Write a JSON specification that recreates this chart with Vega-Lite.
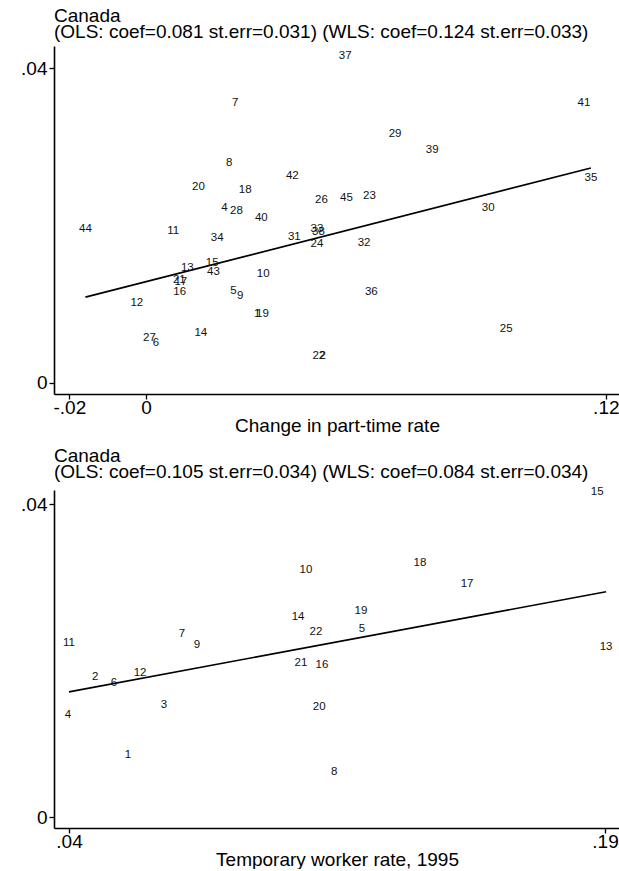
{
  "$schema": "https://vega.github.io/schema/vega-lite/v6.json",
  "padding": {"left": 20, "top": 7, "right": 0, "bottom": 0},
  "background": "white",
  "spacing": 12,
  "config": {
    "font": "Liberation Sans",
    "view": {"stroke": null},
    "axis": {
      "grid": false,
      "domainColor": "black",
      "domainWidth": 1.6,
      "tickColor": "black",
      "tickWidth": 1.3,
      "tickSize": 5,
      "labelFont": "Liberation Sans",
      "labelFontSize": 19,
      "labelColor": "black",
      "labelPadding": 2,
      "titleFont": "Liberation Sans",
      "titleFontSize": 19,
      "titleFontWeight": "normal",
      "titleColor": "black"
    },
    "axisX": {"labelPadding": -1, "titlePadding": -1},
    "title": {
      "font": "Liberation Sans",
      "fontSize": 19,
      "fontWeight": "normal",
      "color": "black",
      "anchor": "start",
      "frame": "group",
      "lineHeight": 16,
      "offset": 4
    },
    "text": {"font": "Liberation Sans", "fontSize": 11.5, "color": "#111"}
  },
  "datasets": {
    "parttime": [
      {"id": "37", "x": 0.0520, "y": 0.0415},
      {"id": "7", "x": 0.0233, "y": 0.0356},
      {"id": "41", "x": 0.1143, "y": 0.0356},
      {"id": "29", "x": 0.0650, "y": 0.0316},
      {"id": "39", "x": 0.0747, "y": 0.0296},
      {"id": "8", "x": 0.0217, "y": 0.0279},
      {"id": "42", "x": 0.0382, "y": 0.0263},
      {"id": "20", "x": 0.0137, "y": 0.0249},
      {"id": "18", "x": 0.0259, "y": 0.0245},
      {"id": "26", "x": 0.0458, "y": 0.0232},
      {"id": "45", "x": 0.0523, "y": 0.0235},
      {"id": "23", "x": 0.0583, "y": 0.0237},
      {"id": "35", "x": 0.1161, "y": 0.0260},
      {"id": "4", "x": 0.0205, "y": 0.0222},
      {"id": "28", "x": 0.0236, "y": 0.0218},
      {"id": "40", "x": 0.0301, "y": 0.0210},
      {"id": "30", "x": 0.0893, "y": 0.0222},
      {"id": "44", "x": -0.0158, "y": 0.0196},
      {"id": "11", "x": 0.0071, "y": 0.0193},
      {"id": "34", "x": 0.0186, "y": 0.0184},
      {"id": "33", "x": 0.0446, "y": 0.0196},
      {"id": "38", "x": 0.0450, "y": 0.0192},
      {"id": "31", "x": 0.0387, "y": 0.0185},
      {"id": "24", "x": 0.0446, "y": 0.0177},
      {"id": "32", "x": 0.0569, "y": 0.0178},
      {"id": "13", "x": 0.0108, "y": 0.0146},
      {"id": "15", "x": 0.0173, "y": 0.0152},
      {"id": "43", "x": 0.0176, "y": 0.0141},
      {"id": "21", "x": 0.0087, "y": 0.0131},
      {"id": "17", "x": 0.0091, "y": 0.0128},
      {"id": "10", "x": 0.0306, "y": 0.0138},
      {"id": "16", "x": 0.0088, "y": 0.0115},
      {"id": "5", "x": 0.0228, "y": 0.0117},
      {"id": "9", "x": 0.0246, "y": 0.0111},
      {"id": "12", "x": -0.0024, "y": 0.0102},
      {"id": "1", "x": 0.0290, "y": 0.0088},
      {"id": "19", "x": 0.0304, "y": 0.0088},
      {"id": "36", "x": 0.0588, "y": 0.0115},
      {"id": "14", "x": 0.0143, "y": 0.0064},
      {"id": "27", "x": 0.0009, "y": 0.0057},
      {"id": "6", "x": 0.0026, "y": 0.0051},
      {"id": "25", "x": 0.0940, "y": 0.0068},
      {"id": "22", "x": 0.0451, "y": 0.0034},
      {"id": "2", "x": 0.0461, "y": 0.0034}
    ],
    "parttimeFit": [
      {"x": -0.0158, "y": 0.0109},
      {"x": 0.1161, "y": 0.0273}
    ],
    "temporary": [
      {"id": "15", "x": 0.1878, "y": 0.0415},
      {"id": "10", "x": 0.1063, "y": 0.0316},
      {"id": "18", "x": 0.1382, "y": 0.0325},
      {"id": "17", "x": 0.1514, "y": 0.0298},
      {"id": "14", "x": 0.1041, "y": 0.0256},
      {"id": "19", "x": 0.1217, "y": 0.0263},
      {"id": "11", "x": 0.0400, "y": 0.0222},
      {"id": "7", "x": 0.0716, "y": 0.0234},
      {"id": "9", "x": 0.0758, "y": 0.0220},
      {"id": "22", "x": 0.1091, "y": 0.0236},
      {"id": "5", "x": 0.1220, "y": 0.0240},
      {"id": "13", "x": 0.1903, "y": 0.0217},
      {"id": "2", "x": 0.0473, "y": 0.0179},
      {"id": "6", "x": 0.0526, "y": 0.0171},
      {"id": "12", "x": 0.0599, "y": 0.0184},
      {"id": "21", "x": 0.1049, "y": 0.0197},
      {"id": "16", "x": 0.1108, "y": 0.0194},
      {"id": "3", "x": 0.0666, "y": 0.0143},
      {"id": "20", "x": 0.1100, "y": 0.0141},
      {"id": "4", "x": 0.0397, "y": 0.0130},
      {"id": "1", "x": 0.0565, "y": 0.0079},
      {"id": "8", "x": 0.1142, "y": 0.0058}
    ],
    "temporaryFit": [
      {"x": 0.0400, "y": 0.0160},
      {"x": 0.1903, "y": 0.0288}
    ]
  },
  "vconcat": [
    {
      "title": {"text": ["Canada", "(OLS: coef=0.081 st.err=0.031) (WLS: coef=0.124 st.err=0.033)"]},
      "width": 566,
      "height": 348,
      "layer": [
        {
          "data": {"name": "parttimeFit"},
          "mark": {"type": "line", "color": "black", "strokeWidth": 1.7},
          "encoding": {
            "x": {"field": "x", "type": "quantitative"},
            "y": {"field": "y", "type": "quantitative"}
          }
        },
        {
          "data": {"name": "parttime"},
          "mark": {"type": "text"},
          "encoding": {
            "x": {"field": "x", "type": "quantitative", "scale": {"domain": [-0.024, 0.1237], "nice": false, "zero": false},
              "axis": {"title": "Change in part-time rate", "values": [-0.02, 0, 0.12], "labelExpr": "replace(datum.value + '', '0.', '.')"}},
            "y": {"field": "y", "type": "quantitative", "scale": {"domain": [-0.0014, 0.0428], "nice": false, "zero": false},
              "axis": {"title": null, "values": [0, 0.04], "labelExpr": "replace(datum.value + '', '0.', '.')"}},
            "text": {"field": "id"}
          }
        }
      ]
    },
    {
      "title": {"text": ["Canada", "(OLS: coef=0.105 st.err=0.034) (WLS: coef=0.084 st.err=0.034)"]},
      "width": 566,
      "height": 338,
      "layer": [
        {
          "data": {"name": "temporaryFit"},
          "mark": {"type": "line", "color": "black", "strokeWidth": 1.7},
          "encoding": {
            "x": {"field": "x", "type": "quantitative"},
            "y": {"field": "y", "type": "quantitative"}
          }
        },
        {
          "data": {"name": "temporary"},
          "mark": {"type": "text"},
          "encoding": {
            "x": {"field": "x", "type": "quantitative", "scale": {"domain": [0.0358, 0.1942], "nice": false, "zero": false},
              "axis": {"title": "Temporary worker rate, 1995", "values": [0.04, 0.19], "labelExpr": "replace(datum.value + '', '0.', '.')"}},
            "y": {"field": "y", "type": "quantitative", "scale": {"domain": [-0.0014, 0.0418], "nice": false, "zero": false},
              "axis": {"title": null, "values": [0, 0.04], "labelExpr": "replace(datum.value + '', '0.', '.')"}},
            "text": {"field": "id"}
          }
        }
      ]
    }
  ]
}
